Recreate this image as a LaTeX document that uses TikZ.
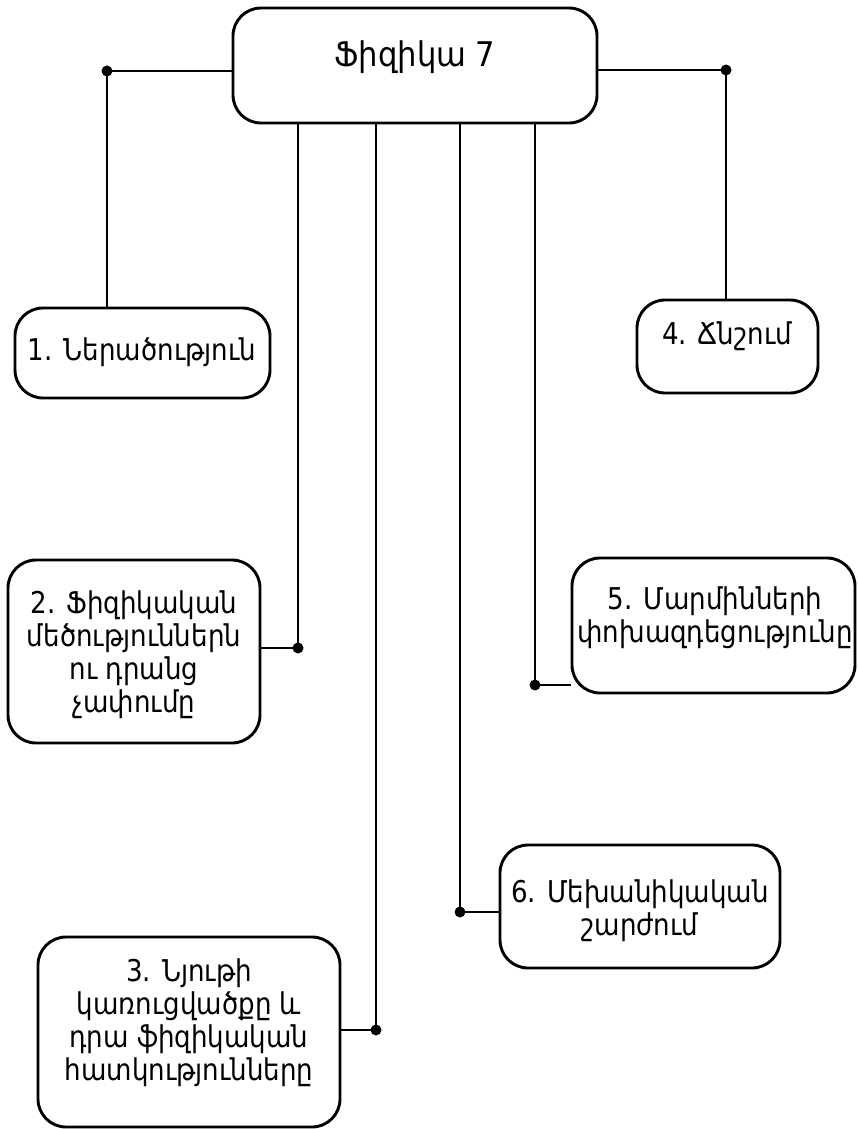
\documentclass[tikz,border=0pt]{standalone}
\usepackage{fontspec}
\setmainfont{DejaVu Sans}
\newfontfamily\armfont[FakeStretch=0.87]{DejaVu Sans}
\newfontfamily\titlefont[FakeStretch=0.9]{DejaVu Sans}
\begin{document}
\begin{tikzpicture}[x=1pt,y=-1pt,
  box/.style={draw, line width=2.9pt, rounded corners=28pt, inner sep=0pt},
  txt/.style={align=center, font=\armfont\fontsize{30}{33}\selectfont, inner sep=0pt, anchor=base},
  conn/.style={line width=2.7pt},
  vline/.style={line width=2.2pt},
  dotc/.style={circle, fill, inner sep=0pt, minimum size=11pt}]
\useasboundingbox (0,0) rectangle (857,1129);
% boxes
\node[box, minimum width=364pt, minimum height=115pt] (top) at (415,65.5) {};
\node[box, minimum width=255pt, minimum height=90pt] (b1) at (142.5,353) {};
\node[box, minimum width=181pt, minimum height=93pt] (b4) at (727.5,346.5) {};
\node[box, minimum width=252pt, minimum height=183pt] (b2) at (134,651.5) {};
\node[box, minimum width=283pt, minimum height=135pt] (b5) at (713.5,625.5) {};
\node[box, minimum width=280pt, minimum height=123pt] (b6) at (640,906.5) {};
\node[box, minimum width=302pt, minimum height=190pt] (b3) at (189,1032) {};
% texts
\node[txt, font=\titlefont\fontsize{34}{40}\selectfont] (t0) at (415,67) {Ֆիզիկա 7};
\node[txt] (t1) at (142,360) {1. Ներածություն};
\node[txt] (t4) at (727,344) {4. Ճնշում};
\node[txt] (t2) at (134,712) {2. Ֆիզիկական\\մեծություններն\\ու դրանց\\չափումը};
\node[txt] (t5) at (715,642) {5. Մարմինների\\փոխազդեցությունը};
\node[txt] (t6) at (640,935) {6. Մեխանիկական\\շարժում};
\node[txt] (t3) at (189,1080) {3. Նյութի\\կառուցվածքը և\\դրա ֆիզիկական\\հատկությունները};
% junction points
\coordinate (d1) at (107,71);
\coordinate (d4) at (726,70);
\coordinate (d2) at (298,648);
\coordinate (d3) at (376,1030);
\coordinate (d6) at (460,912);
\coordinate (d5) at (535,685);
% connectors
\draw[conn] (top.west |- d1) -- (d1) -- (b1.north -| d1);
\draw[conn] (top.east |- d4) -- (d4) -- (b4.north -| d4);
\draw[vline] (top.south -| d2) -- (d2);
\draw[conn] (d2) -- (b2.east |- d2);
\draw[vline] (top.south -| d3) -- (d3);
\draw[conn] (d3) -- (b3.east |- d3);
\draw[vline] (top.south -| d6) -- (d6);
\draw[conn] (d6) -- (b6.west |- d6);
\draw[vline] (top.south -| d5) -- (d5);
\draw[conn] (d5) -- (b5.west |- d5);
% dots
\foreach \d in {d1,d2,d3,d4,d5,d6} \node[dotc] at (\d) {};
\end{tikzpicture}
\end{document}
